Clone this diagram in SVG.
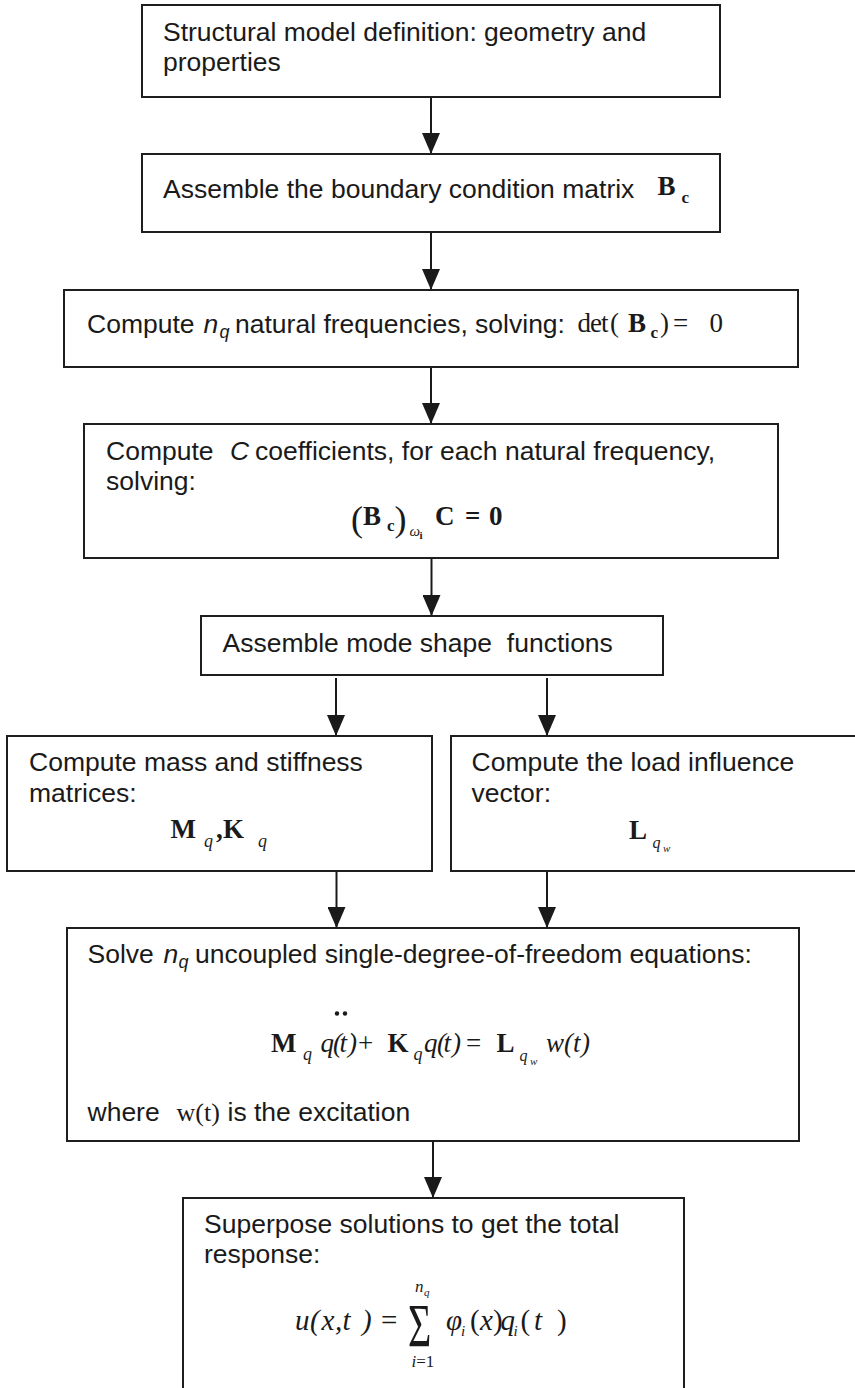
<svg xmlns="http://www.w3.org/2000/svg" width="855" height="1388" viewBox="0 0 855 1388">
<defs>
<marker id="ah" markerUnits="userSpaceOnUse" markerWidth="21" markerHeight="18" refX="21" refY="9" orient="auto">
<path d="M0,0 L21,9 L0,18 z" fill="#1a1a1a"/>
</marker>
<style>
.box{fill:#fff;stroke:#1e1e1e;stroke-width:2}
.t{font-family:"Liberation Sans",Arial,sans-serif;font-size:26.5px;fill:#1a1a1a}
.ti{font-family:"Liberation Sans",Arial,sans-serif;font-size:26.5px;font-style:italic;fill:#1a1a1a}
.m{font-family:"Liberation Serif","Times New Roman",serif;font-size:27px;fill:#1a1a1a}
.mb{font-family:"Liberation Serif","Times New Roman",serif;font-size:27px;font-weight:bold;fill:#1a1a1a}
.mi{font-family:"Liberation Serif","Times New Roman",serif;font-size:27px;font-style:italic;fill:#1a1a1a}
.conn{stroke:#1a1a1a;stroke-width:2;fill:none;marker-end:url(#ah)}
</style>
</defs>
<rect width="855" height="1388" fill="#fff"/>

<g id="connectors">
<line class="conn" x1="431" y1="97" x2="431" y2="154"/>
<line class="conn" x1="431" y1="232" x2="431" y2="290"/>
<line class="conn" x1="431" y1="367" x2="431" y2="424"/>
<line class="conn" x1="431.5" y1="558" x2="431.5" y2="616"/>
<line class="conn" x1="336" y1="678" x2="336" y2="736"/>
<line class="conn" x1="547" y1="678" x2="547" y2="736"/>
<line class="conn" x1="336.5" y1="871" x2="336.5" y2="928"/>
<line class="conn" x1="547" y1="871" x2="547" y2="928"/>
<line class="conn" x1="433" y1="1141" x2="433" y2="1198"/>
</g>

<g id="n1">
<rect class="box" x="142" y="5" width="578" height="92"/>
<text class="t" x="163" y="41">Structural model definition: geometry and</text>
<text class="t" x="163" y="71">properties</text>
</g>

<g id="n2">
<rect class="box" x="142" y="154" width="578" height="78"/>
<text class="t" x="163" y="198">Assemble the boundary condition matrix</text>
<text class="mb" x="657.5" y="195">B<tspan x="681.5" dy="8" style="font-size:17px">c</tspan></text>
</g>

<g id="n3">
<rect class="box" x="64" y="290" width="734" height="77"/>
<text class="t" x="87" y="333">Compute <tspan x="203.5" style="font-style:italic">n</tspan><tspan x="219.5" dy="5" style="font-style:italic;font-size:18px">q</tspan><tspan x="235" dy="-5">natural frequencies, solving:</tspan></text>
<text class="m" x="577.5 590 601 610" y="332">det(<tspan x="628" style="font-weight:bold">B</tspan><tspan x="650.5" dy="6" style="font-weight:bold;font-size:17px">c</tspan><tspan x="660 673 709.5" dy="-6">)=0</tspan></text>
</g>

<g id="n4">
<rect class="box" x="84" y="424" width="694" height="134"/>
<text class="t" x="106" y="460">Compute <tspan x="230" style="font-style:italic">C</tspan><tspan x="255">coefficients, for each natural frequency,</tspan></text>
<text class="t" x="106" y="490">solving:</text>
<text class="m" x="351" y="531"><tspan style="font-size:36px">(</tspan><tspan x="363" dy="-6" style="font-weight:bold">B</tspan><tspan x="387" dy="6" style="font-weight:bold;font-size:17px">c</tspan><tspan x="394.5" style="font-size:36px">)</tspan><tspan x="409.5" dy="5" style="font-style:italic;font-size:15px">ω</tspan><tspan x="419.5" dy="3" style="font-weight:bold;font-size:11px">i</tspan><tspan x="435 465 489" dy="-14" style="font-weight:bold">C=0</tspan></text>
</g>

<g id="n5">
<rect class="box" x="201" y="616" width="462" height="59"/>
<text class="t" x="222.5" y="652" xml:space="preserve">Assemble mode shape  functions</text>
</g>

<g id="n6">
<rect class="box" x="7" y="736" width="425" height="135"/>
<text class="t" x="29" y="771">Compute mass and stiffness</text>
<text class="t" x="29" y="801.5">matrices:</text>
<text class="mb" x="170.5" y="838">M<tspan x="204" dy="8.5" style="font-style:italic;font-weight:normal;font-size:18px">q</tspan><tspan x="216" dy="-8.5">,</tspan><tspan x="223">K</tspan><tspan x="258" dy="8.5" style="font-style:italic;font-weight:normal;font-size:18px">q</tspan></text>
</g>

<g id="n7">
<rect class="box" x="451" y="736" width="420" height="135"/>
<text class="t" x="471.5" y="771">Compute the load influence</text>
<text class="t" x="471.5" y="801.5">vector:</text>
<text class="mb" x="629" y="839">L<tspan x="652.5" dy="9" style="font-style:italic;font-weight:normal;font-size:16px">q</tspan><tspan x="663" dy="4" style="font-style:italic;font-weight:normal;font-size:11px">w</tspan></text>
</g>

<g id="n8">
<rect class="box" x="67" y="928" width="732" height="213"/>
<text class="t" x="87.5" y="963">Solve <tspan x="163.5" style="font-style:italic">n</tspan><tspan x="178.5" dy="5" style="font-style:italic;font-size:18px">q</tspan><tspan x="195" dy="-5">uncoupled single-degree-of-freedom equations:</tspan></text>
<circle cx="337" cy="1013.5" r="2.2" fill="#1a1a1a"/>
<circle cx="345" cy="1013.5" r="2.2" fill="#1a1a1a"/>
<text class="m" x="271" y="1052"><tspan style="font-weight:bold">M</tspan><tspan x="303" dy="8" style="font-style:italic;font-size:18px">q</tspan><tspan x="320.5 333 339.5 348" dy="-8" style="font-style:italic">q(t)</tspan><tspan x="358">+</tspan><tspan x="387.5" style="font-weight:bold">K</tspan><tspan x="413.5" dy="8" style="font-style:italic;font-size:18px">q</tspan><tspan x="424 437 443.5 452" dy="-8" style="font-style:italic">q(t)</tspan><tspan x="466">=</tspan><tspan x="496.5" style="font-weight:bold">L</tspan><tspan x="519.5" dy="9" style="font-style:italic;font-size:16px">q</tspan><tspan x="530" dy="4" style="font-style:italic;font-size:11px">w</tspan><tspan x="546 564 573 581" dy="-13" style="font-style:italic">w(t)</tspan></text>
<text class="t" x="87.5" y="1120.5">where <tspan x="176.5" style="font-family:'Liberation Serif','Times New Roman',serif;font-size:26px">w(t)</tspan><tspan x="227.5">is the excitation</tspan></text>
</g>

<g id="n9">
<rect class="box" x="183" y="1198" width="501" height="220"/>
<text class="t" x="204" y="1233">Superpose solutions to get the total</text>
<text class="t" x="204" y="1263">response:</text>
<text class="mi" style="font-size:29px" x="295 310 321.5 335 342.5 362" y="1330">u(x,t)<tspan x="381" style="font-style:normal">=</tspan></text>
<text class="m" style="font-size:40px" transform="translate(408 1346) scale(1 1.55)">Σ</text>
<text class="mi" style="font-size:17px" x="415" y="1292">n<tspan x="424" dy="4" style="font-size:11px">q</tspan></text>
<text class="mi" style="font-size:17px" x="411.5" y="1367">i<tspan style="font-style:normal">=1</tspan></text>
<text class="mi" style="font-size:29px" x="446" y="1330">φ<tspan x="461" dy="6" style="font-size:15px">i</tspan><tspan x="470" dy="-6" style="font-style:normal">(</tspan><tspan x="480">x</tspan><tspan x="493" style="font-style:normal">)</tspan><tspan x="500.5">q</tspan><tspan x="513.5" dy="6" style="font-size:15px">i</tspan><tspan x="520.5" dy="-6" style="font-style:normal">(</tspan><tspan x="534">t</tspan><tspan x="557" style="font-style:normal">)</tspan></text>
</g>
</svg>
